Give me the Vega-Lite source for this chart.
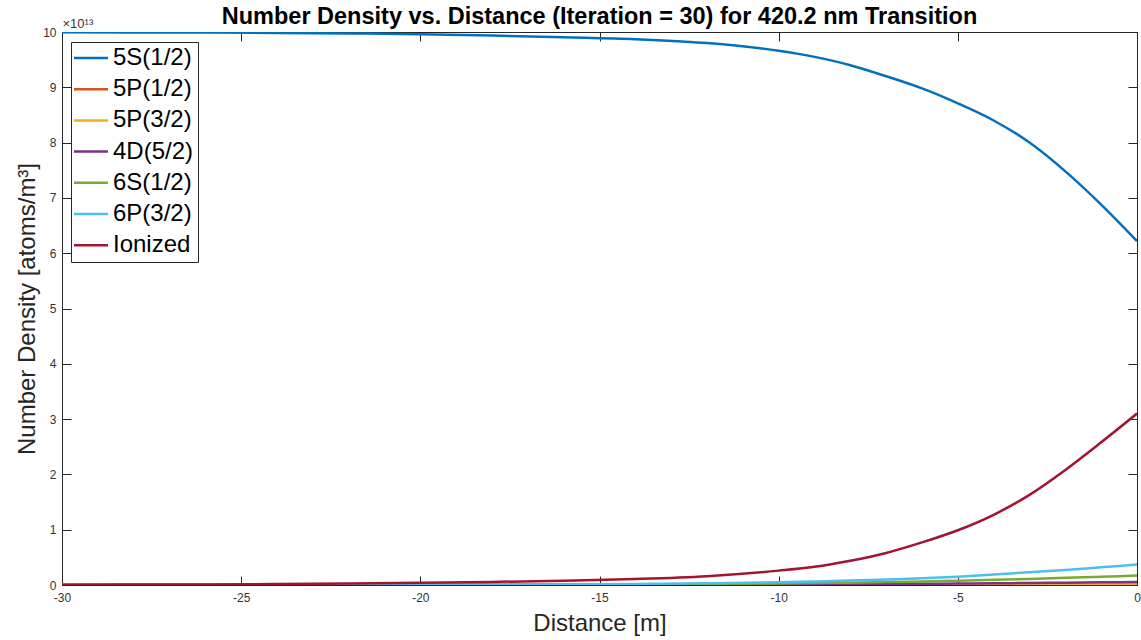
{
  "$schema": "https://vega.github.io/schema/vega-lite/v6.json",
  "width": 1075,
  "height": 553,
  "autosize": {"type": "none"},
  "padding": {"left": 62, "top": 32, "right": 4, "bottom": 55},
  "background": "white",
  "title": {
    "text": "Number Density vs. Distance (Iteration = 30) for 420.2 nm Transition",
    "fontSize": 23.5,
    "fontWeight": "bold",
    "font": "Liberation Sans",
    "color": "#000000",
    "anchor": "middle",
    "offset": -11
  },
  "config": {
    "view": {"stroke": null},
    "font": "Liberation Sans",
    "axis": {
      "grid": false,
      "domainColor": "#262626",
      "domainWidth": 1,
      "tickColor": "#262626",
      "tickWidth": 1,
      "tickSize": -9,
      "labelFont": "Liberation Sans",
      "labelFontSize": 12,
      "labelColor": "#333333",
      "titleFont": "Liberation Sans",
      "titleFontWeight": "normal",
      "titleFontSize": 24,
      "titleColor": "#262626",
      "labelFlush": false
    }
  },
  "data": {
    "values": [
      {"distance": -30, "state": "5S(1/2)", "density": 9.995},
      {"distance": -28, "state": "5S(1/2)", "density": 9.993},
      {"distance": -26, "state": "5S(1/2)", "density": 9.989},
      {"distance": -24, "state": "5S(1/2)", "density": 9.983},
      {"distance": -22, "state": "5S(1/2)", "density": 9.974},
      {"distance": -20, "state": "5S(1/2)", "density": 9.959},
      {"distance": -18, "state": "5S(1/2)", "density": 9.936},
      {"distance": -16, "state": "5S(1/2)", "density": 9.905},
      {"distance": -14, "state": "5S(1/2)", "density": 9.87},
      {"distance": -12, "state": "5S(1/2)", "density": 9.8},
      {"distance": -10, "state": "5S(1/2)", "density": 9.66},
      {"distance": -9, "state": "5S(1/2)", "density": 9.55},
      {"distance": -8, "state": "5S(1/2)", "density": 9.4},
      {"distance": -7, "state": "5S(1/2)", "density": 9.2},
      {"distance": -6, "state": "5S(1/2)", "density": 8.98},
      {"distance": -5, "state": "5S(1/2)", "density": 8.71},
      {"distance": -4, "state": "5S(1/2)", "density": 8.4},
      {"distance": -3, "state": "5S(1/2)", "density": 8.0},
      {"distance": -2, "state": "5S(1/2)", "density": 7.48},
      {"distance": -1, "state": "5S(1/2)", "density": 6.88},
      {"distance": 0, "state": "5S(1/2)", "density": 6.22},

      {"distance": -30, "state": "5P(1/2)", "density": 0.0003},
      {"distance": -28, "state": "5P(1/2)", "density": 0.0004},
      {"distance": -26, "state": "5P(1/2)", "density": 0.0005},
      {"distance": -24, "state": "5P(1/2)", "density": 0.0006},
      {"distance": -22, "state": "5P(1/2)", "density": 0.0008},
      {"distance": -20, "state": "5P(1/2)", "density": 0.001},
      {"distance": -18, "state": "5P(1/2)", "density": 0.0015},
      {"distance": -16, "state": "5P(1/2)", "density": 0.002},
      {"distance": -14, "state": "5P(1/2)", "density": 0.003},
      {"distance": -12, "state": "5P(1/2)", "density": 0.004},
      {"distance": -10, "state": "5P(1/2)", "density": 0.006},
      {"distance": -9, "state": "5P(1/2)", "density": 0.007},
      {"distance": -8, "state": "5P(1/2)", "density": 0.008},
      {"distance": -7, "state": "5P(1/2)", "density": 0.01},
      {"distance": -6, "state": "5P(1/2)", "density": 0.012},
      {"distance": -5, "state": "5P(1/2)", "density": 0.014},
      {"distance": -4, "state": "5P(1/2)", "density": 0.017},
      {"distance": -3, "state": "5P(1/2)", "density": 0.02},
      {"distance": -2, "state": "5P(1/2)", "density": 0.023},
      {"distance": -1, "state": "5P(1/2)", "density": 0.026},
      {"distance": 0, "state": "5P(1/2)", "density": 0.03},

      {"distance": -30, "state": "5P(3/2)", "density": 0.0002},
      {"distance": -28, "state": "5P(3/2)", "density": 0.0002},
      {"distance": -26, "state": "5P(3/2)", "density": 0.0003},
      {"distance": -24, "state": "5P(3/2)", "density": 0.0004},
      {"distance": -22, "state": "5P(3/2)", "density": 0.0005},
      {"distance": -20, "state": "5P(3/2)", "density": 0.0006},
      {"distance": -18, "state": "5P(3/2)", "density": 0.0008},
      {"distance": -16, "state": "5P(3/2)", "density": 0.001},
      {"distance": -14, "state": "5P(3/2)", "density": 0.0015},
      {"distance": -12, "state": "5P(3/2)", "density": 0.002},
      {"distance": -10, "state": "5P(3/2)", "density": 0.003},
      {"distance": -9, "state": "5P(3/2)", "density": 0.0035},
      {"distance": -8, "state": "5P(3/2)", "density": 0.004},
      {"distance": -7, "state": "5P(3/2)", "density": 0.005},
      {"distance": -6, "state": "5P(3/2)", "density": 0.006},
      {"distance": -5, "state": "5P(3/2)", "density": 0.007},
      {"distance": -4, "state": "5P(3/2)", "density": 0.0085},
      {"distance": -3, "state": "5P(3/2)", "density": 0.01},
      {"distance": -2, "state": "5P(3/2)", "density": 0.011},
      {"distance": -1, "state": "5P(3/2)", "density": 0.013},
      {"distance": 0, "state": "5P(3/2)", "density": 0.015},

      {"distance": -30, "state": "4D(5/2)", "density": 0.0003},
      {"distance": -28, "state": "4D(5/2)", "density": 0.0005},
      {"distance": -26, "state": "4D(5/2)", "density": 0.0007},
      {"distance": -24, "state": "4D(5/2)", "density": 0.001},
      {"distance": -22, "state": "4D(5/2)", "density": 0.0015},
      {"distance": -20, "state": "4D(5/2)", "density": 0.002},
      {"distance": -18, "state": "4D(5/2)", "density": 0.003},
      {"distance": -16, "state": "4D(5/2)", "density": 0.004},
      {"distance": -14, "state": "4D(5/2)", "density": 0.005},
      {"distance": -12, "state": "4D(5/2)", "density": 0.007},
      {"distance": -10, "state": "4D(5/2)", "density": 0.01},
      {"distance": -9, "state": "4D(5/2)", "density": 0.012},
      {"distance": -8, "state": "4D(5/2)", "density": 0.015},
      {"distance": -7, "state": "4D(5/2)", "density": 0.018},
      {"distance": -6, "state": "4D(5/2)", "density": 0.022},
      {"distance": -5, "state": "4D(5/2)", "density": 0.026},
      {"distance": -4, "state": "4D(5/2)", "density": 0.031},
      {"distance": -3, "state": "4D(5/2)", "density": 0.036},
      {"distance": -2, "state": "4D(5/2)", "density": 0.042},
      {"distance": -1, "state": "4D(5/2)", "density": 0.048},
      {"distance": 0, "state": "4D(5/2)", "density": 0.055},

      {"distance": -30, "state": "6S(1/2)", "density": 0.0005},
      {"distance": -28, "state": "6S(1/2)", "density": 0.0006},
      {"distance": -26, "state": "6S(1/2)", "density": 0.0008},
      {"distance": -24, "state": "6S(1/2)", "density": 0.001},
      {"distance": -22, "state": "6S(1/2)", "density": 0.002},
      {"distance": -20, "state": "6S(1/2)", "density": 0.003},
      {"distance": -18, "state": "6S(1/2)", "density": 0.005},
      {"distance": -16, "state": "6S(1/2)", "density": 0.007},
      {"distance": -14, "state": "6S(1/2)", "density": 0.011},
      {"distance": -12, "state": "6S(1/2)", "density": 0.017},
      {"distance": -10, "state": "6S(1/2)", "density": 0.027},
      {"distance": -9, "state": "6S(1/2)", "density": 0.034},
      {"distance": -8, "state": "6S(1/2)", "density": 0.042},
      {"distance": -7, "state": "6S(1/2)", "density": 0.052},
      {"distance": -6, "state": "6S(1/2)", "density": 0.064},
      {"distance": -5, "state": "6S(1/2)", "density": 0.078},
      {"distance": -4, "state": "6S(1/2)", "density": 0.095},
      {"distance": -3, "state": "6S(1/2)", "density": 0.11},
      {"distance": -2, "state": "6S(1/2)", "density": 0.13},
      {"distance": -1, "state": "6S(1/2)", "density": 0.15},
      {"distance": 0, "state": "6S(1/2)", "density": 0.17},

      {"distance": -30, "state": "6P(3/2)", "density": 0.001},
      {"distance": -28, "state": "6P(3/2)", "density": 0.001},
      {"distance": -26, "state": "6P(3/2)", "density": 0.002},
      {"distance": -24, "state": "6P(3/2)", "density": 0.003},
      {"distance": -22, "state": "6P(3/2)", "density": 0.004},
      {"distance": -20, "state": "6P(3/2)", "density": 0.005},
      {"distance": -18, "state": "6P(3/2)", "density": 0.008},
      {"distance": -16, "state": "6P(3/2)", "density": 0.013},
      {"distance": -14, "state": "6P(3/2)", "density": 0.02},
      {"distance": -12, "state": "6P(3/2)", "density": 0.032},
      {"distance": -10, "state": "6P(3/2)", "density": 0.05},
      {"distance": -9, "state": "6P(3/2)", "density": 0.065},
      {"distance": -8, "state": "6P(3/2)", "density": 0.08},
      {"distance": -7, "state": "6P(3/2)", "density": 0.1},
      {"distance": -6, "state": "6P(3/2)", "density": 0.12},
      {"distance": -5, "state": "6P(3/2)", "density": 0.15},
      {"distance": -4, "state": "6P(3/2)", "density": 0.19},
      {"distance": -3, "state": "6P(3/2)", "density": 0.23},
      {"distance": -2, "state": "6P(3/2)", "density": 0.27},
      {"distance": -1, "state": "6P(3/2)", "density": 0.32},
      {"distance": 0, "state": "6P(3/2)", "density": 0.37},

      {"distance": -30, "state": "Ionized", "density": 0.005},
      {"distance": -28, "state": "Ionized", "density": 0.008},
      {"distance": -26, "state": "Ionized", "density": 0.011},
      {"distance": -24, "state": "Ionized", "density": 0.017},
      {"distance": -22, "state": "Ionized", "density": 0.026},
      {"distance": -20, "state": "Ionized", "density": 0.039},
      {"distance": -18, "state": "Ionized", "density": 0.056},
      {"distance": -16, "state": "Ionized", "density": 0.077},
      {"distance": -14, "state": "Ionized", "density": 0.108},
      {"distance": -12, "state": "Ionized", "density": 0.16},
      {"distance": -10, "state": "Ionized", "density": 0.26},
      {"distance": -9, "state": "Ionized", "density": 0.33},
      {"distance": -8, "state": "Ionized", "density": 0.44},
      {"distance": -7, "state": "Ionized", "density": 0.58},
      {"distance": -6, "state": "Ionized", "density": 0.77},
      {"distance": -5, "state": "Ionized", "density": 0.99},
      {"distance": -4, "state": "Ionized", "density": 1.27},
      {"distance": -3, "state": "Ionized", "density": 1.63},
      {"distance": -2, "state": "Ionized", "density": 2.08},
      {"distance": -1, "state": "Ionized", "density": 2.58},
      {"distance": 0, "state": "Ionized", "density": 3.1}
    ]
  },
  "layer": [
    {
      "mark": {"type": "line", "strokeWidth": 2.5, "interpolate": "monotone", "clip": true},
      "encoding": {
        "x": {
          "field": "distance",
          "type": "quantitative",
          "scale": {"domain": [-30, 0], "nice": false, "zero": false},
          "axis": {
            "orient": "bottom",
            "values": [-30, -25, -20, -15, -10, -5, 0],
            "labelExpr": "datum.value + ''",
            "title": "Distance [m]",
            "labelPadding": 16,
            "titlePadding": 8
          }
        },
        "y": {
          "field": "density",
          "type": "quantitative",
          "scale": {"domain": [0, 10], "nice": false},
          "axis": {
            "orient": "left",
            "values": [0, 1, 2, 3, 4, 5, 6, 7, 8, 9, 10],
            "title": "Number Density [atoms/m³]",
            "labelPadding": 15,
            "titlePadding": 3
          }
        },
        "color": {
          "field": "state",
          "type": "nominal",
          "sort": ["5S(1/2)", "5P(1/2)", "5P(3/2)", "4D(5/2)", "6S(1/2)", "6P(3/2)", "Ionized"],
          "scale": {
            "domain": ["5S(1/2)", "5P(1/2)", "5P(3/2)", "4D(5/2)", "6S(1/2)", "6P(3/2)", "Ionized"],
            "range": ["#0072BD", "#D95319", "#EDB120", "#7E2F8E", "#77AC30", "#4DBEEE", "#A2142F"]
          },
          "legend": {
            "title": null,
            "orient": "none",
            "legendX": 9,
            "legendY": 10,
            "symbolType": "M-2,0H2",
            "symbolSize": 289,
            "symbolStrokeWidth": 2.5,
            "symbolOffset": 4,
            "labelFont": "Liberation Sans",
            "labelFontSize": 24,
            "labelColor": "#000000",
            "labelLimit": 300,
            "labelOffset": 10,
            "strokeColor": "#262626",
            "fillColor": "white",
            "padding": 4,
            "rowPadding": 7.2
          }
        }
      }
    },
    {
      "mark": {"type": "line", "strokeOpacity": 0},
      "encoding": {
        "x": {
          "field": "distance",
          "type": "quantitative",
          "axis": {
            "orient": "top",
            "values": [-30, -25, -20, -15, -10, -5, 0],
            "labels": false,
            "title": "×10¹³",
            "titleFontSize": 13,
            "titleColor": "#333333",
            "titleX": 0,
            "titleY": -2,
            "titleAlign": "left",
            "titleBaseline": "bottom",
            "titleAngle": 0
          }
        },
        "y": {
          "field": "density",
          "type": "quantitative",
          "axis": {
            "orient": "right",
            "values": [0, 1, 2, 3, 4, 5, 6, 7, 8, 9, 10],
            "labels": false,
            "title": null
          }
        },
        "detail": {"field": "state", "type": "nominal"}
      }
    }
  ],
  "resolve": {"axis": {"x": "independent", "y": "independent"}}
}
